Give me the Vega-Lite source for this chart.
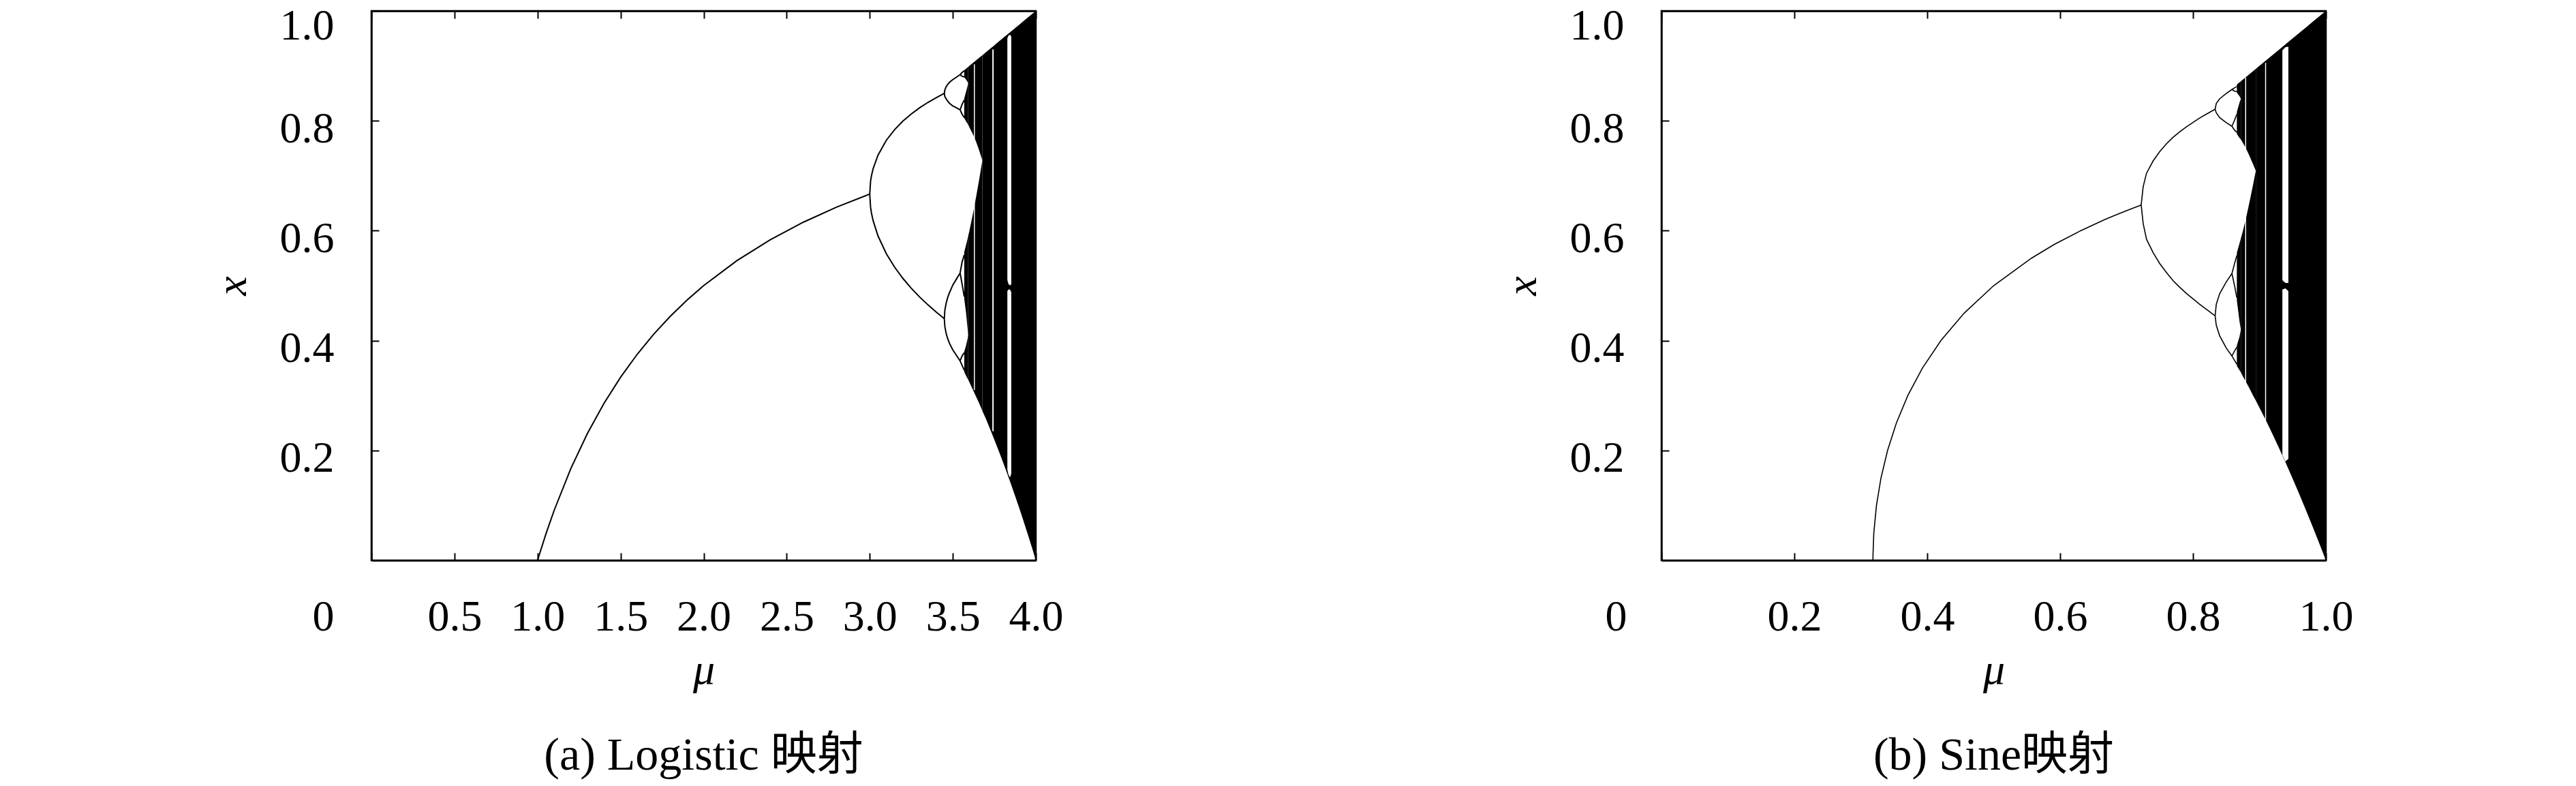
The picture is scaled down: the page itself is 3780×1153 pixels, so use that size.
{
  "$schema": "https://vega.github.io/schema/vega-lite/v6.json",
  "autosize": {"type": "none"},
  "padding": {"left": 545, "top": 16, "right": 3235, "bottom": 331},
  "background": "white",
  "bounds": "flush",
  "spacing": 918,
  "config": {
    "font": "Liberation Serif",
    "view": {"stroke": "black", "strokeWidth": 2.5},
    "axis": {
      "labelFont": "Liberation Serif",
      "labelFontSize": 64,
      "labelColor": "black",
      "titleFont": "Liberation Serif",
      "titleFontSize": 64,
      "titleColor": "black",
      "titleFontWeight": "normal",
      "domainColor": "black",
      "domainWidth": 2.5,
      "tickColor": "black",
      "tickWidth": 2,
      "tickSize": -11,
      "grid": false,
      "labelFlush": false,
      "labelOverlap": false
    },
    "title": {"font": "Liberation Serif, Noto Sans CJK SC", "fontSize": 68, "fontWeight": "normal", "color": "black"}
  },
  "datasets": {
    "logLines": [
      {"mu": 1.0, "x": 0, "b": "p1"}, {"mu": 1.05, "x": 0.0476, "b": "p1"}, {"mu": 1.1, "x": 0.0909, "b": "p1"}, {"mu": 1.2, "x": 0.1667, "b": "p1"}, {"mu": 1.3, "x": 0.2308, "b": "p1"}, {"mu": 1.4, "x": 0.2857, "b": "p1"}, {"mu": 1.5, "x": 0.3333, "b": "p1"}, {"mu": 1.6, "x": 0.375, "b": "p1"}, {"mu": 1.7, "x": 0.4118, "b": "p1"}, {"mu": 1.8, "x": 0.4444, "b": "p1"}, {"mu": 1.9, "x": 0.4737, "b": "p1"}, {"mu": 2.0, "x": 0.5, "b": "p1"}, {"mu": 2.2, "x": 0.5455, "b": "p1"}, {"mu": 2.4, "x": 0.5833, "b": "p1"}, {"mu": 2.6, "x": 0.6154, "b": "p1"}, {"mu": 2.8, "x": 0.6429, "b": "p1"}, {"mu": 3.0, "x": 0.6667, "b": "p1"},
      {"mu": 3.0, "x": 0.6667, "b": "p2a"}, {"mu": 3.005, "x": 0.6899, "b": "p2a"}, {"mu": 3.01, "x": 0.6994, "b": "p2a"}, {"mu": 3.02, "x": 0.7125, "b": "p2a"}, {"mu": 3.05, "x": 0.7377, "b": "p2a"}, {"mu": 3.1, "x": 0.7646, "b": "p2a"}, {"mu": 3.15, "x": 0.7839, "b": "p2a"}, {"mu": 3.2, "x": 0.7995, "b": "p2a"}, {"mu": 3.25, "x": 0.8124, "b": "p2a"}, {"mu": 3.3, "x": 0.8236, "b": "p2a"}, {"mu": 3.35, "x": 0.8334, "b": "p2a"}, {"mu": 3.4, "x": 0.8421, "b": "p2a"}, {"mu": 3.449, "x": 0.8499, "b": "p2a"},
      {"mu": 3.0, "x": 0.6667, "b": "p2b"}, {"mu": 3.005, "x": 0.6428, "b": "p2b"}, {"mu": 3.01, "x": 0.6328, "b": "p2b"}, {"mu": 3.02, "x": 0.6186, "b": "p2b"}, {"mu": 3.05, "x": 0.5902, "b": "p2b"}, {"mu": 3.1, "x": 0.558, "b": "p2b"}, {"mu": 3.15, "x": 0.5335, "b": "p2b"}, {"mu": 3.2, "x": 0.513, "b": "p2b"}, {"mu": 3.25, "x": 0.4952, "b": "p2b"}, {"mu": 3.3, "x": 0.4794, "b": "p2b"}, {"mu": 3.35, "x": 0.4651, "b": "p2b"}, {"mu": 3.4, "x": 0.452, "b": "p2b"}, {"mu": 3.449, "x": 0.4399, "b": "p2b"},
      {"mu": 3.449, "x": 0.8499, "b": "p4a"}, {"mu": 3.452, "x": 0.856, "b": "p4a"}, {"mu": 3.46, "x": 0.862, "b": "p4a"}, {"mu": 3.47, "x": 0.8665, "b": "p4a"}, {"mu": 3.48, "x": 0.87, "b": "p4a"}, {"mu": 3.5, "x": 0.875, "b": "p4a"}, {"mu": 3.52, "x": 0.879, "b": "p4a"}, {"mu": 3.544, "x": 0.884, "b": "p4a"},
      {"mu": 3.449, "x": 0.8499, "b": "p4b"}, {"mu": 3.452, "x": 0.844, "b": "p4b"}, {"mu": 3.46, "x": 0.84, "b": "p4b"}, {"mu": 3.47, "x": 0.8355, "b": "p4b"}, {"mu": 3.48, "x": 0.832, "b": "p4b"}, {"mu": 3.5, "x": 0.827, "b": "p4b"}, {"mu": 3.52, "x": 0.824, "b": "p4b"}, {"mu": 3.544, "x": 0.82, "b": "p4b"},
      {"mu": 3.449, "x": 0.4399, "b": "p4c"}, {"mu": 3.452, "x": 0.455, "b": "p4c"}, {"mu": 3.46, "x": 0.468, "b": "p4c"}, {"mu": 3.47, "x": 0.479, "b": "p4c"}, {"mu": 3.48, "x": 0.487, "b": "p4c"}, {"mu": 3.5, "x": 0.501, "b": "p4c"}, {"mu": 3.52, "x": 0.511, "b": "p4c"}, {"mu": 3.544, "x": 0.523, "b": "p4c"},
      {"mu": 3.449, "x": 0.4399, "b": "p4d"}, {"mu": 3.452, "x": 0.426, "b": "p4d"}, {"mu": 3.46, "x": 0.413, "b": "p4d"}, {"mu": 3.47, "x": 0.403, "b": "p4d"}, {"mu": 3.48, "x": 0.395, "b": "p4d"}, {"mu": 3.5, "x": 0.383, "b": "p4d"}, {"mu": 3.52, "x": 0.374, "b": "p4d"}, {"mu": 3.544, "x": 0.363, "b": "p4d"},
      {"mu": 3.544, "x": 0.884, "b": "p8a"}, {"mu": 3.556, "x": 0.888, "b": "p8a"}, {"mu": 3.569, "x": 0.891, "b": "p8a"},
      {"mu": 3.544, "x": 0.884, "b": "p8b"}, {"mu": 3.556, "x": 0.881, "b": "p8b"}, {"mu": 3.569, "x": 0.88, "b": "p8b"},
      {"mu": 3.544, "x": 0.82, "b": "p8c"}, {"mu": 3.556, "x": 0.83, "b": "p8c"}, {"mu": 3.569, "x": 0.838, "b": "p8c"},
      {"mu": 3.544, "x": 0.82, "b": "p8d"}, {"mu": 3.556, "x": 0.812, "b": "p8d"}, {"mu": 3.569, "x": 0.806, "b": "p8d"},
      {"mu": 3.544, "x": 0.523, "b": "p8e"}, {"mu": 3.556, "x": 0.543, "b": "p8e"}, {"mu": 3.569, "x": 0.556, "b": "p8e"},
      {"mu": 3.544, "x": 0.523, "b": "p8f"}, {"mu": 3.556, "x": 0.503, "b": "p8f"}, {"mu": 3.569, "x": 0.48, "b": "p8f"},
      {"mu": 3.544, "x": 0.363, "b": "p8g"}, {"mu": 3.556, "x": 0.372, "b": "p8g"}, {"mu": 3.569, "x": 0.378, "b": "p8g"},
      {"mu": 3.544, "x": 0.363, "b": "p8h"}, {"mu": 3.556, "x": 0.355, "b": "p8h"}, {"mu": 3.569, "x": 0.346, "b": "p8h"}
    ],
    "logBands": [
      {"mu": 3.569, "lo": 0.879, "hi": 0.892, "b": "U1"}, {"mu": 3.58, "lo": 0.875, "hi": 0.895, "b": "U1"}, {"mu": 3.59, "lo": 0.87, "hi": 0.8975, "b": "U1"}, {"mu": 3.5925, "lo": 0.868, "hi": 0.898, "b": "U1"},
      {"mu": 3.569, "lo": 0.805, "hi": 0.841, "b": "U2"}, {"mu": 3.58, "lo": 0.799, "hi": 0.853, "b": "U2"}, {"mu": 3.59, "lo": 0.794, "hi": 0.865, "b": "U2"}, {"mu": 3.5925, "lo": 0.793, "hi": 0.868, "b": "U2"},
      {"mu": 3.5925, "lo": 0.793, "hi": 0.898, "b": "U"}, {"mu": 3.6, "lo": 0.788, "hi": 0.9, "b": "U"}, {"mu": 3.62, "lo": 0.776, "hi": 0.905, "b": "U"}, {"mu": 3.64, "lo": 0.762, "hi": 0.91, "b": "U"}, {"mu": 3.66, "lo": 0.745, "hi": 0.915, "b": "U"}, {"mu": 3.678, "lo": 0.728, "hi": 0.9195, "b": "U"},
      {"mu": 3.569, "lo": 0.476, "hi": 0.561, "b": "L1"}, {"mu": 3.58, "lo": 0.45, "hi": 0.574, "b": "L1"}, {"mu": 3.59, "lo": 0.418, "hi": 0.587, "b": "L1"}, {"mu": 3.5925, "lo": 0.41, "hi": 0.59, "b": "L1"},
      {"mu": 3.569, "lo": 0.343, "hi": 0.38, "b": "L2"}, {"mu": 3.58, "lo": 0.336, "hi": 0.391, "b": "L2"}, {"mu": 3.59, "lo": 0.33, "hi": 0.405, "b": "L2"}, {"mu": 3.5925, "lo": 0.329, "hi": 0.41, "b": "L2"},
      {"mu": 3.5925, "lo": 0.329, "hi": 0.59, "b": "L"}, {"mu": 3.6, "lo": 0.324, "hi": 0.6, "b": "L"}, {"mu": 3.62, "lo": 0.311, "hi": 0.629, "b": "L"}, {"mu": 3.64, "lo": 0.298, "hi": 0.661, "b": "L"}, {"mu": 3.66, "lo": 0.285, "hi": 0.695, "b": "L"}, {"mu": 3.678, "lo": 0.272, "hi": 0.728, "b": "L"},
      {"mu": 3.678, "lo": 0.272, "hi": 0.9195, "b": "M"}, {"mu": 3.7, "lo": 0.257, "hi": 0.925, "b": "M"}, {"mu": 3.725, "lo": 0.2385, "hi": 0.93125, "b": "M"}, {"mu": 3.75, "lo": 0.2197, "hi": 0.9375, "b": "M"}, {"mu": 3.775, "lo": 0.2004, "hi": 0.94375, "b": "M"}, {"mu": 3.8, "lo": 0.1805, "hi": 0.95, "b": "M"}, {"mu": 3.825, "lo": 0.16, "hi": 0.95625, "b": "M"}, {"mu": 3.85, "lo": 0.139, "hi": 0.9625, "b": "M"}, {"mu": 3.875, "lo": 0.1173, "hi": 0.96875, "b": "M"}, {"mu": 3.9, "lo": 0.0951, "hi": 0.975, "b": "M"}, {"mu": 3.925, "lo": 0.0722, "hi": 0.98125, "b": "M"}, {"mu": 3.95, "lo": 0.0488, "hi": 0.9875, "b": "M"}, {"mu": 3.975, "lo": 0.0247, "hi": 0.99375, "b": "M"}, {"mu": 4.0, "lo": 0, "hi": 1.0, "b": "M"}
    ],
    "logWin": [
      {"mu": 3.8285, "lo": 0.165, "hi": 0.49, "w": "w3lo"}, {"mu": 3.835, "lo": 0.156, "hi": 0.493, "w": "w3lo"}, {"mu": 3.845, "lo": 0.151, "hi": 0.493, "w": "w3lo"}, {"mu": 3.852, "lo": 0.158, "hi": 0.488, "w": "w3lo"},
      {"mu": 3.8285, "lo": 0.51, "hi": 0.95, "w": "w3hi"}, {"mu": 3.835, "lo": 0.503, "hi": 0.955, "w": "w3hi"}, {"mu": 3.845, "lo": 0.5, "hi": 0.957, "w": "w3hi"}, {"mu": 3.852, "lo": 0.503, "hi": 0.953, "w": "w3hi"},
      {"mu": 3.738, "lo": 0.235, "hi": 0.93, "w": "w5"}, {"mu": 3.746, "lo": 0.235, "hi": 0.93, "w": "w5"},
      {"mu": 3.627, "lo": 0.31, "hi": 0.903, "w": "w6"}, {"mu": 3.633, "lo": 0.31, "hi": 0.903, "w": "w6"}
    ],
    "sinLines": [
      {"mu": 0.3183, "x": 0, "b": "s1"}, {"mu": 0.3184, "x": 0.01, "b": "s1"}, {"mu": 0.3196, "x": 0.05, "b": "s1"}, {"mu": 0.3236, "x": 0.1, "b": "s1"}, {"mu": 0.3304, "x": 0.15, "b": "s1"}, {"mu": 0.3403, "x": 0.2, "b": "s1"}, {"mu": 0.3536, "x": 0.25, "b": "s1"}, {"mu": 0.3708, "x": 0.3, "b": "s1"}, {"mu": 0.3928, "x": 0.35, "b": "s1"}, {"mu": 0.4206, "x": 0.4, "b": "s1"}, {"mu": 0.4556, "x": 0.45, "b": "s1"}, {"mu": 0.5, "x": 0.5, "b": "s1"}, {"mu": 0.5569, "x": 0.55, "b": "s1"}, {"mu": 0.5913, "x": 0.575, "b": "s1"}, {"mu": 0.6309, "x": 0.6, "b": "s1"}, {"mu": 0.6668, "x": 0.62, "b": "s1"}, {"mu": 0.6865, "x": 0.63, "b": "s1"}, {"mu": 0.7073, "x": 0.64, "b": "s1"}, {"mu": 0.722, "x": 0.6468, "b": "s1"},
      {"mu": 0.722, "x": 0.6468, "b": "s2a"}, {"mu": 0.725, "x": 0.68, "b": "s2a"}, {"mu": 0.73, "x": 0.7045, "b": "s2a"}, {"mu": 0.74, "x": 0.727, "b": "s2a"}, {"mu": 0.75, "x": 0.744, "b": "s2a"}, {"mu": 0.76, "x": 0.758, "b": "s2a"}, {"mu": 0.77, "x": 0.77, "b": "s2a"}, {"mu": 0.78, "x": 0.78, "b": "s2a"}, {"mu": 0.79, "x": 0.789, "b": "s2a"}, {"mu": 0.8, "x": 0.797, "b": "s2a"}, {"mu": 0.81, "x": 0.805, "b": "s2a"}, {"mu": 0.82, "x": 0.812, "b": "s2a"}, {"mu": 0.8333, "x": 0.821, "b": "s2a"},
      {"mu": 0.722, "x": 0.6468, "b": "s2b"}, {"mu": 0.725, "x": 0.613, "b": "s2b"}, {"mu": 0.73, "x": 0.5845, "b": "s2b"}, {"mu": 0.74, "x": 0.56, "b": "s2b"}, {"mu": 0.75, "x": 0.54, "b": "s2b"}, {"mu": 0.76, "x": 0.524, "b": "s2b"}, {"mu": 0.77, "x": 0.509, "b": "s2b"}, {"mu": 0.78, "x": 0.497, "b": "s2b"}, {"mu": 0.79, "x": 0.486, "b": "s2b"}, {"mu": 0.8, "x": 0.476, "b": "s2b"}, {"mu": 0.81, "x": 0.466, "b": "s2b"}, {"mu": 0.82, "x": 0.457, "b": "s2b"}, {"mu": 0.8333, "x": 0.445, "b": "s2b"},
      {"mu": 0.8333, "x": 0.821, "b": "s4a"}, {"mu": 0.835, "x": 0.8315, "b": "s4a"}, {"mu": 0.84, "x": 0.84, "b": "s4a"}, {"mu": 0.85, "x": 0.8497, "b": "s4a"}, {"mu": 0.8586, "x": 0.857, "b": "s4a"},
      {"mu": 0.8333, "x": 0.821, "b": "s4b"}, {"mu": 0.835, "x": 0.8145, "b": "s4b"}, {"mu": 0.84, "x": 0.806, "b": "s4b"}, {"mu": 0.85, "x": 0.7967, "b": "s4b"}, {"mu": 0.8586, "x": 0.79, "b": "s4b"},
      {"mu": 0.8333, "x": 0.445, "b": "s4c"}, {"mu": 0.835, "x": 0.466, "b": "s4c"}, {"mu": 0.84, "x": 0.485, "b": "s4c"}, {"mu": 0.85, "x": 0.5067, "b": "s4c"}, {"mu": 0.8586, "x": 0.522, "b": "s4c"},
      {"mu": 0.8333, "x": 0.445, "b": "s4d"}, {"mu": 0.835, "x": 0.428, "b": "s4d"}, {"mu": 0.84, "x": 0.409, "b": "s4d"}, {"mu": 0.85, "x": 0.3866, "b": "s4d"}, {"mu": 0.8586, "x": 0.372, "b": "s4d"},
      {"mu": 0.8586, "x": 0.857, "b": "s8a"}, {"mu": 0.8625, "x": 0.86, "b": "s8a"}, {"mu": 0.866, "x": 0.8625, "b": "s8a"},
      {"mu": 0.8586, "x": 0.857, "b": "s8b"}, {"mu": 0.8625, "x": 0.854, "b": "s8b"}, {"mu": 0.866, "x": 0.853, "b": "s8b"},
      {"mu": 0.8586, "x": 0.79, "b": "s8c"}, {"mu": 0.8625, "x": 0.801, "b": "s8c"}, {"mu": 0.866, "x": 0.812, "b": "s8c"},
      {"mu": 0.8586, "x": 0.79, "b": "s8d"}, {"mu": 0.8625, "x": 0.783, "b": "s8d"}, {"mu": 0.866, "x": 0.779, "b": "s8d"},
      {"mu": 0.8586, "x": 0.522, "b": "s8e"}, {"mu": 0.8625, "x": 0.54, "b": "s8e"}, {"mu": 0.866, "x": 0.555, "b": "s8e"},
      {"mu": 0.8586, "x": 0.522, "b": "s8f"}, {"mu": 0.8625, "x": 0.5, "b": "s8f"}, {"mu": 0.866, "x": 0.478, "b": "s8f"},
      {"mu": 0.8586, "x": 0.372, "b": "s8g"}, {"mu": 0.8625, "x": 0.381, "b": "s8g"}, {"mu": 0.866, "x": 0.388, "b": "s8g"},
      {"mu": 0.8586, "x": 0.372, "b": "s8h"}, {"mu": 0.8625, "x": 0.364, "b": "s8h"}, {"mu": 0.866, "x": 0.357, "b": "s8h"}
    ],
    "sinBands": [
      {"mu": 0.866, "lo": 0.851, "hi": 0.866, "b": "U1"}, {"mu": 0.87, "lo": 0.845, "hi": 0.87, "b": "U1"}, {"mu": 0.872, "lo": 0.84, "hi": 0.872, "b": "U1"},
      {"mu": 0.866, "lo": 0.776, "hi": 0.816, "b": "U2"}, {"mu": 0.87, "lo": 0.769, "hi": 0.833, "b": "U2"}, {"mu": 0.872, "lo": 0.766, "hi": 0.84, "b": "U2"},
      {"mu": 0.872, "lo": 0.766, "hi": 0.872, "b": "U"}, {"mu": 0.875, "lo": 0.76, "hi": 0.875, "b": "U"}, {"mu": 0.88, "lo": 0.749, "hi": 0.88, "b": "U"}, {"mu": 0.885, "lo": 0.736, "hi": 0.885, "b": "U"}, {"mu": 0.89, "lo": 0.722, "hi": 0.89, "b": "U"}, {"mu": 0.8945, "lo": 0.709, "hi": 0.8945, "b": "U"},
      {"mu": 0.866, "lo": 0.473, "hi": 0.56, "b": "L1"}, {"mu": 0.87, "lo": 0.435, "hi": 0.577, "b": "L1"}, {"mu": 0.872, "lo": 0.42, "hi": 0.586, "b": "L1"},
      {"mu": 0.866, "lo": 0.354, "hi": 0.391, "b": "L2"}, {"mu": 0.87, "lo": 0.346, "hi": 0.407, "b": "L2"}, {"mu": 0.872, "lo": 0.342, "hi": 0.42, "b": "L2"},
      {"mu": 0.872, "lo": 0.342, "hi": 0.586, "b": "L"}, {"mu": 0.875, "lo": 0.335, "hi": 0.599, "b": "L"}, {"mu": 0.88, "lo": 0.324, "hi": 0.624, "b": "L"}, {"mu": 0.885, "lo": 0.313, "hi": 0.652, "b": "L"}, {"mu": 0.89, "lo": 0.301, "hi": 0.681, "b": "L"}, {"mu": 0.8945, "lo": 0.291, "hi": 0.709, "b": "L"},
      {"mu": 0.8945, "lo": 0.291, "hi": 0.8945, "b": "M"}, {"mu": 0.9, "lo": 0.278, "hi": 0.9, "b": "M"}, {"mu": 0.91, "lo": 0.2539, "hi": 0.91, "b": "M"}, {"mu": 0.92, "lo": 0.2288, "hi": 0.92, "b": "M"}, {"mu": 0.93, "lo": 0.2029, "hi": 0.93, "b": "M"}, {"mu": 0.94, "lo": 0.1761, "hi": 0.94, "b": "M"}, {"mu": 0.95, "lo": 0.1486, "hi": 0.95, "b": "M"}, {"mu": 0.96, "lo": 0.1203, "hi": 0.96, "b": "M"}, {"mu": 0.97, "lo": 0.0913, "hi": 0.97, "b": "M"}, {"mu": 0.98, "lo": 0.0615, "hi": 0.98, "b": "M"}, {"mu": 0.99, "lo": 0.0311, "hi": 0.99, "b": "M"}, {"mu": 1.0, "lo": 0, "hi": 1.0, "b": "M"}
    ],
    "sinWin": [
      {"mu": 0.8785, "lo": 0.325, "hi": 0.878, "w": "sw6"}, {"mu": 0.88, "lo": 0.325, "hi": 0.879, "w": "sw6"},
      {"mu": 0.9085, "lo": 0.255, "hi": 0.905, "w": "sw5"}, {"mu": 0.91, "lo": 0.255, "hi": 0.906, "w": "sw5"},
      {"mu": 0.9345, "lo": 0.192, "hi": 0.493, "w": "sw3lo"}, {"mu": 0.939, "lo": 0.18, "hi": 0.495, "w": "sw3lo"}, {"mu": 0.9435, "lo": 0.185, "hi": 0.49, "w": "sw3lo"},
      {"mu": 0.9345, "lo": 0.51, "hi": 0.928, "w": "sw3hi"}, {"mu": 0.939, "lo": 0.505, "hi": 0.934, "w": "sw3hi"}, {"mu": 0.9435, "lo": 0.505, "hi": 0.935, "w": "sw3hi"}
    ]
  },
  "hconcat": [
    {
      "width": 975,
      "height": 806,
      "title": {"text": "(a) Logistic 映射", "orient": "bottom", "offset": 60},
      "resolve": {"axis": {"x": "independent", "y": "independent"}},
      "layer": [
        {
          "data": {"name": "logBands"},
          "mark": {"type": "area", "color": "black"},
          "encoding": {
            "x": {"field": "mu", "type": "quantitative", "scale": {"domain": [0, 4], "nice": false, "zero": false},
              "axis": {"orient": "bottom", "values": [0, 0.5, 1, 1.5, 2, 2.5, 3, 3.5, 4], "format": ".1f", "labelExpr": "datum.value === 0 ? '0' : datum.label", "labelOffset": {"condition": {"test": "datum.value === 0", "value": -71}, "value": 0}, "labelPadding": 62, "title": "μ", "titleFontStyle": "italic", "titlePadding": 14}},
            "y": {"field": "lo", "type": "quantitative", "scale": {"domain": [0, 1], "nice": false},
              "axis": {"orient": "left", "values": [0.2, 0.4, 0.6, 0.8, 1.0], "format": ".1f", "labelPadding": 66, "labelOffset": {"condition": {"test": "datum.value === 1", "value": 22}, "value": 12}, "title": "x", "titleFontStyle": "italic", "titlePadding": 37}},
            "y2": {"field": "hi"},
            "detail": {"field": "b"}
          }
        },
        {
          "data": {"name": "logWin"},
          "mark": {"type": "area", "color": "white"},
          "encoding": {
            "x": {"field": "mu", "type": "quantitative", "axis": {"orient": "top", "values": [0, 0.5, 1, 1.5, 2, 2.5, 3, 3.5, 4], "labels": false, "title": null}},
            "y": {"field": "lo", "type": "quantitative", "axis": null},
            "y2": {"field": "hi"},
            "detail": {"field": "w"}
          }
        },
        {
          "data": {"name": "logLines"},
          "mark": {"type": "line", "color": "black", "strokeWidth": 2},
          "encoding": {
            "x": {"field": "mu", "type": "quantitative", "axis": null},
            "y": {"field": "x", "type": "quantitative", "axis": null},
            "detail": {"field": "b"}
          }
        }
      ]
    },
    {
      "width": 975,
      "height": 806,
      "title": {"text": "(b) Sine映射", "orient": "bottom", "offset": 60},
      "resolve": {"axis": {"x": "independent", "y": "independent"}},
      "layer": [
        {
          "data": {"name": "sinBands"},
          "mark": {"type": "area", "color": "black"},
          "encoding": {
            "x": {"field": "mu", "type": "quantitative", "scale": {"domain": [0, 1], "nice": false, "zero": false},
              "axis": {"orient": "bottom", "values": [0, 0.2, 0.4, 0.6, 0.8, 1.0], "format": ".1f", "labelExpr": "datum.value === 0 ? '0' : datum.label", "labelOffset": {"condition": {"test": "datum.value === 0", "value": -67}, "value": 0}, "labelPadding": 62, "title": "μ", "titleFontStyle": "italic", "titlePadding": 14}},
            "y": {"field": "lo", "type": "quantitative", "scale": {"domain": [0, 1], "nice": false},
              "axis": {"orient": "left", "values": [0.2, 0.4, 0.6, 0.8, 1.0], "format": ".1f", "labelPadding": 66, "labelOffset": {"condition": {"test": "datum.value === 1", "value": 22}, "value": 12}, "title": "x", "titleFontStyle": "italic", "titlePadding": 37}},
            "y2": {"field": "hi"},
            "detail": {"field": "b"}
          }
        },
        {
          "data": {"name": "sinWin"},
          "mark": {"type": "area", "color": "white"},
          "encoding": {
            "x": {"field": "mu", "type": "quantitative", "axis": {"orient": "top", "values": [0, 0.2, 0.4, 0.6, 0.8, 1.0], "labels": false, "title": null}},
            "y": {"field": "lo", "type": "quantitative", "axis": null},
            "y2": {"field": "hi"},
            "detail": {"field": "w"}
          }
        },
        {
          "data": {"name": "sinLines"},
          "mark": {"type": "line", "color": "black", "strokeWidth": 1.6},
          "encoding": {
            "x": {"field": "mu", "type": "quantitative", "axis": null},
            "y": {"field": "x", "type": "quantitative", "axis": null},
            "detail": {"field": "b"}
          }
        }
      ]
    }
  ]
}
